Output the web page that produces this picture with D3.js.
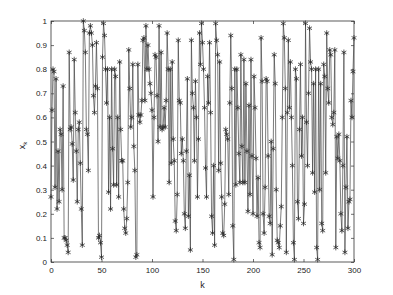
<!DOCTYPE html>
<html>
<head>
<meta charset="utf-8">
<script src="https://cdn.jsdelivr.net/npm/d3@7"></script>
<style>
  body { margin: 0; background: #fff; }
  .tick text { font-family: "Liberation Sans", Arial, sans-serif; font-size: 8px; fill: #222; }
</style>
</head>
<body>
<div class="chart"></div>
<script>
// Values x_k, k = 0..300
var xk = [
  0.27, 0.63, 0.80, 0.79, 0.31, 0.76, 0.22, 0.46, 0.25, 0.55,
  0.53, 0.30, 0.73, 0.10, 0.10, 0.09, 0.07, 0.04, 0.87, 0.55,
  0.56, 0.49, 0.34, 0.84, 0.62, 0.46, 0.25, 0.55, 0.58, 0.41,
  0.22, 0.07, 1.00, 0.96, 0.87, 0.55, 0.53, 0.38, 0.95, 0.98,
  0.95, 0.90, 0.69, 0.62, 0.73, 0.91, 0.72, 0.10, 0.11, 0.08,
  0.02, 0.85, 0.99, 0.94, 0.80, 0.66, 0.80, 0.29, 0.60, 0.22,
  0.80, 0.47, 0.32, 0.80, 0.77, 0.32, 0.60, 0.27, 0.83, 0.55,
  0.42, 0.42, 0.22, 0.14, 0.12, 0.18, 0.33, 0.88, 0.72, 0.56,
  0.60, 0.82, 0.48, 0.38, 0.02, 0.03, 0.82, 0.61, 0.58, 0.61,
  0.67, 0.92, 0.93, 0.67, 0.98, 0.80, 0.90, 0.80, 0.74, 0.70,
  0.63, 0.27, 0.60, 0.86, 0.85, 0.69, 0.50, 0.98, 0.56, 0.87,
  0.55, 0.56, 0.64, 0.56, 0.67, 0.95, 0.80, 0.33, 0.80, 0.41,
  0.83, 0.51, 0.42, 0.17, 0.13, 0.28, 0.92, 0.67, 0.66, 0.45,
  0.51, 0.42, 0.20, 0.14, 0.46, 0.76, 0.19, 0.36, 0.05, 0.92,
  0.70, 0.64, 0.42, 0.75, 0.60, 0.27, 0.51, 0.95, 0.82, 0.99,
  0.91, 0.80, 0.64, 0.39, 0.27, 0.77, 0.66, 0.91, 0.62, 0.19,
  0.12, 0.40, 0.07, 0.99, 0.92, 0.86, 0.38, 0.83, 0.41, 0.27,
  0.12, 0.11, 0.24, 0.55, 0.53, 0.51, 0.28, 0.66, 0.94, 0.72,
  0.15, 0.01, 0.80, 0.32, 0.80, 0.64, 0.45, 0.33, 0.86, 0.48,
  0.33, 0.84, 0.33, 0.74, 0.46, 0.21, 0.65, 0.28, 0.84, 0.44,
  0.20, 0.77, 0.64, 0.43, 0.19, 0.35, 0.08, 0.06, 0.93, 0.75,
  0.20, 0.12, 0.31, 0.76, 0.75, 0.44, 0.19, 0.16, 0.50, 0.03,
  0.47, 0.86, 0.74, 0.30, 0.09, 0.08, 0.06, 0.15, 0.23, 0.60,
  0.99, 0.93, 0.72, 0.04, 0.62, 0.92, 0.64, 0.83, 0.60, 0.40,
  0.08, 0.01, 0.80, 0.76, 0.25, 0.18, 0.55, 0.82, 0.44, 0.60,
  0.16, 0.24, 0.99, 0.58, 0.40, 0.70, 0.97, 0.83, 0.80, 0.37,
  0.74, 0.29, 0.80, 0.06, 0.01, 0.80, 0.30, 0.74, 0.16, 0.13,
  0.82, 0.77, 0.37, 0.95, 0.72, 0.66, 0.88, 0.86, 0.60, 0.57,
  0.62, 0.88, 0.06, 0.52, 0.43, 0.53, 0.42, 0.20, 0.13, 0.40,
  0.87, 0.04, 0.31, 0.52, 0.14, 0.25, 0.26, 0.67, 0.60, 0.79,
  0.93
];

// Tick values
var xTicks = [0, 50, 100, 150, 200, 250, 300];
var yTicks = [0, 0.1, 0.2, 0.3, 0.4, 0.5, 0.6, 0.7, 0.8, 0.9, 1];

var svgWidth = 393;
var svgHeight = 295;

var margin = { top: 21, right: 39, bottom: 33, left: 51 };

var width = svgWidth - margin.left - margin.right;
var height = svgHeight - margin.top - margin.bottom;

var svg = d3.select(".chart")
  .append("svg")
  .attr("width", svgWidth)
  .attr("height", svgHeight);

var chartGroup = svg.append("g")
  .attr("transform", `translate(${margin.left}, ${margin.top})`);

var data = xk.map(function(v, i) { return { k: i, x: v }; });

// Scales
var xScale = d3.scaleLinear().domain([0, 300]).range([0, width]);
var yScale = d3.scaleLinear().domain([0, 1]).range([height, 0]);

// Axes, ticks pointing inward like matlab
var bottomAxis = d3.axisBottom(xScale).tickValues(xTicks)
  .tickSizeInner(-3).tickSizeOuter(0).tickPadding(5).tickFormat(d3.format("d"));
var leftAxis = d3.axisLeft(yScale).tickValues(yTicks)
  .tickSizeInner(-3).tickSizeOuter(0).tickPadding(4).tickFormat(d => d === 0 || d === 1 ? d : d3.format(".1f")(d));
var topAxis = d3.axisTop(xScale).tickValues(xTicks)
  .tickSizeInner(-3).tickSizeOuter(0).tickFormat("");
var rightAxis = d3.axisRight(yScale).tickValues(yTicks)
  .tickSizeInner(-3).tickSizeOuter(0).tickFormat("");

[
  [bottomAxis, `translate(0, ${height})`],
  [leftAxis, null],
  [topAxis, null],
  [rightAxis, `translate(${width}, 0)`]
].forEach(function(a) {
  var g = chartGroup.append("g").call(a[0]);
  if (a[1]) g.attr("transform", a[1]);
  g.select(".domain").remove();
  g.selectAll(".tick line").attr("stroke", "#333").attr("stroke-width", 0.7);
});

// Frame
chartGroup.append("rect")
  .attr("width", width)
  .attr("height", height)
  .attr("fill", "none")
  .attr("stroke", "#333")
  .attr("stroke-width", 0.8);

// Line
var line = d3.line()
  .x(d => xScale(d.k))
  .y(d => yScale(d.x));

chartGroup.append("path")
  .datum(data)
  .attr("d", line)
  .attr("fill", "none")
  .attr("stroke", "#444")
  .attr("stroke-width", 0.7);

// Asterisk markers
var star = d3.symbol().type(d3.symbolAsterisk).size(22);

chartGroup.selectAll(".mark")
  .data(data)
  .enter()
  .append("path")
  .attr("class", "mark")
  .attr("transform", d => `translate(${xScale(d.k)}, ${yScale(d.x)})`)
  .attr("d", star)
  .attr("fill", "none")
  .attr("stroke", "#2a2a2a")
  .attr("stroke-width", 0.75);

// Axis labels
var ylab = svg.append("text")
  .attr("transform", `translate(25, ${margin.top + height / 2 + 4}) rotate(-90)`)
  .attr("text-anchor", "middle")
  .attr("font-family", "Liberation Sans, Arial, sans-serif")
  .attr("font-size", "9px")
  .attr("fill", "#222");
ylab.append("tspan").text("x");
ylab.append("tspan").attr("font-size", "6px").attr("dy", 2).text("k");

svg.append("text")
  .attr("x", margin.left + width / 2)
  .attr("y", margin.top + height + 26)
  .attr("text-anchor", "middle")
  .attr("font-family", "Liberation Sans, Arial, sans-serif")
  .attr("font-size", "9px")
  .attr("fill", "#222")
  .text("k");
</script>
</body>
</html>
